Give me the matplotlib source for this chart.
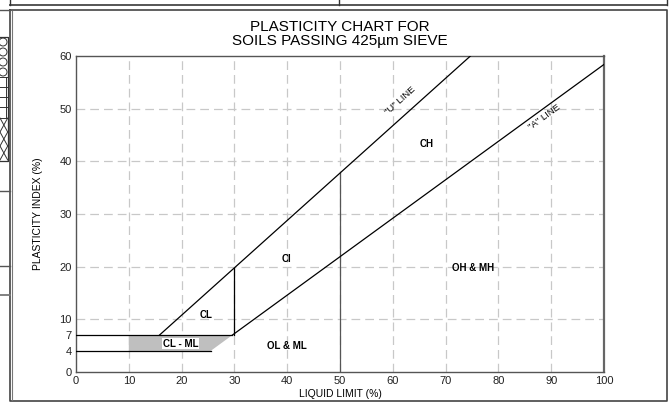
import matplotlib
matplotlib.use("Agg")
import matplotlib.pyplot as plt
from matplotlib.lines import Line2D
from matplotlib.patches import Ellipse
import numpy as np

plt.rcParams['font.family'] = ['Liberation Sans', 'DejaVu Sans']

# ---- data ----
x_ticks = [0, 10, 20, 30, 40, 50, 60, 70, 80, 90, 100]
y_ticks = [0, 4, 7, 10, 20, 30, 40, 50, 60]
grid_x = [10, 20, 30, 40, 50, 60, 70, 80, 90]
grid_y = [10, 20, 30, 40, 50]

# U line: PI = 0.9 (LL - 8); A line: PI = 0.73 (LL - 20)
u_ll = [15.8, 74.7]
u_pi = [7.0, 60.0]
a_ll = [29.6, 100.0]
a_pi = [7.0, 58.4]
pi7_ll = [0, 29.6]
pi7_pi = [7, 7]
pi4_ll = [0, 25.5]
pi4_pi = [4, 4]
v30_ll = [30, 30]
v30_pi = [7, 19.8]
v50_ll = [50, 50]
v50_pi = [0, 37.8]
clml_ll = [10, 25.5, 29.6, 10]
clml_pi = [4, 4, 7, 7]

zone_labels = ["CH", "CI", "CL", "OH & MH", "OL & ML"]
zone_ll = [66.4, 39.9, 24.7, 75.2, 39.9]
zone_pi = [43.2, 21.4, 10.8, 19.7, 5.0]

W, H = 670, 403
fig = plt.figure(figsize=(W / 100, H / 100), dpi=100)

def fx(x):
    return x / W

def fy(y):
    return 1 - y / H

# ---- axes ----
L, R, T, B = 76, 604, 56, 372
ax = fig.add_axes([fx(L), fy(B), (R - L) / W, (B - T) / H])
ax.set_xlim(0, 100)
ax.set_ylim(0, 60)
ax.set_xticks(x_ticks)
ax.set_yticks(y_ticks)
ax.tick_params(length=0, labelsize=8, pad=3, colors='#222222')
for s in ax.spines.values():
    s.set_color('#555555')
    s.set_linewidth(1.0)
ax.spines['right'].set_linewidth(1.6)
ax.spines['right'].set_color('#666666')

for gx in grid_x:
    ax.axvline(gx, color='#c8c8c8', lw=0.9, ls=(0, (7, 4)), zorder=0)
for gy in grid_y:
    ax.axhline(gy, color='#c8c8c8', lw=0.9, ls=(0, (7, 4)), zorder=0)

ax.fill(clml_ll, clml_pi, color='#bfbfbf', lw=0, zorder=1)
ax.plot(u_ll, u_pi, color='black', lw=0.9, zorder=3)
ax.plot(a_ll, a_pi, color='black', lw=0.9, zorder=3)
ax.plot(pi7_ll, pi7_pi, color='black', lw=0.9, zorder=3)
ax.plot(pi4_ll, pi4_pi, color='black', lw=0.9, zorder=3)
ax.plot(v30_ll, v30_pi, color='black', lw=0.9, zorder=3)
ax.plot(v50_ll, v50_pi, color='#555555', lw=0.9, zorder=2)

for t, xv, yv in zip(zone_labels, zone_ll, zone_pi):
    ax.text(xv, yv, t, fontsize=7, fontweight='bold', ha='center', va='center', zorder=4)
ax.text(19.8, 5.4, "CL - ML", fontsize=7, fontweight='bold', ha='center', va='center',
        zorder=4, bbox=dict(facecolor='white', edgecolor='none', pad=0.6))

# rotated line labels (angle from display slope)
def disp_angle(slope):
    p1 = ax.transData.transform((0, 0))
    p2 = ax.transData.transform((10, 10 * slope))
    return np.degrees(np.arctan2(p2[1] - p1[1], p2[0] - p1[0]))

ax.text(61.5, 51.5, '"U" LINE', fontsize=6.8, rotation=disp_angle(0.9), ha='center',
        va='center', rotation_mode='anchor', zorder=4)
ax.text(88.8, 48.3, '"A" LINE', fontsize=6.8, rotation=disp_angle(0.73), ha='center',
        va='center', rotation_mode='anchor', zorder=4)

ax.set_xlabel("LIQUID LIMIT (%)", fontsize=7.5, labelpad=2)
ax.set_ylabel("PLASTICITY INDEX (%)", fontsize=7.5, labelpad=10)
ax.xaxis.set_label_coords(0.5, -0.055)
ax.yaxis.set_label_coords(-0.063, 0.5)

fig.text(fx(340), fy(34), "PLASTICITY CHART FOR\nSOILS PASSING 425\u00b5m SIEVE",
         ha='center', va='center', fontsize=11, linespacing=1.05)

# ---- frame decorations ----
def fline(xs, ys, color='#333333', lw=1.0):
    fig.add_artist(Line2D([fx(v) for v in xs], [fy(v) for v in ys], color=color, lw=lw))

fline([9.5, 667, 667, 9.5, 9.5], [9.5, 9.5, 401, 401, 9.5], color='#444444', lw=1.2)
fline([12, 12], [11, 400], color='#777777', lw=0.8)
fline([9.5, 667], [5.3, 5.3], color='#555555', lw=1.4)
fline([9.5, 9.5], [0, 5.3])
fline([339, 339], [0, 5.3])
fline([667, 667], [0, 5.3])

# left partial table
fline([0, 9.5], [9.5, 9.5], color='#555555')
fline([0, 7.7, 7.7, 0], [36.7, 36.7, 160.7, 160.7], color='#333333', lw=0.9)
fline([0, 9.5], [190.7, 190.7], color='#555555')
fline([0, 9.5], [266, 266], color='#555555')
fline([0, 9.5], [295, 295], color='#777777', lw=1.3)
for cy in [42, 52, 62, 72]:
    fig.add_artist(Ellipse((fx(3), fy(cy)), 8 / W, 8 / H, fill=False, ec='#333333', lw=0.7))
for ly in [77, 87, 97, 107, 118]:
    fline([0, 7.7], [ly, ly], color='#333333', lw=0.7)
fline([5.5, 5.5], [77, 118], color='#333333', lw=0.7)
for y0 in [118, 132, 146]:
    fline([0, 7.7], [y0, y0 + 14], color='#333333', lw=0.7)
    fline([0, 7.7], [y0 + 14, y0], color='#333333', lw=0.7)

fig.savefig("out.png", dpi=100)
